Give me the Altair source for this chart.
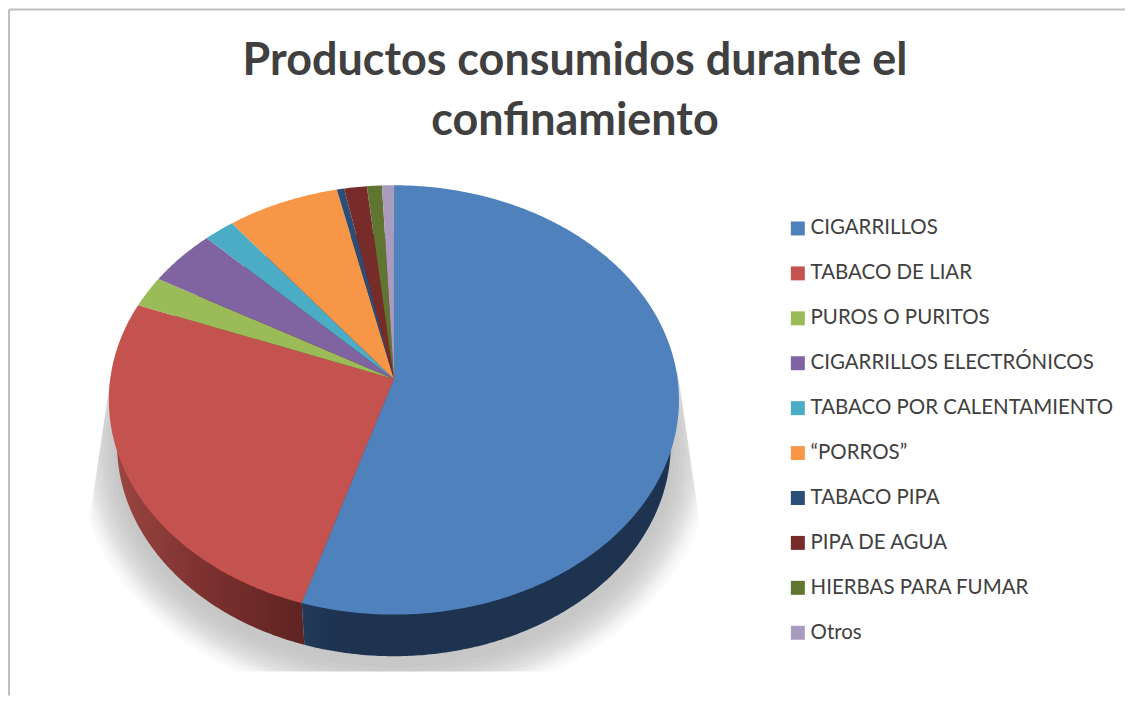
import math
import altair as alt

title_lines = ["Productos consumidos durante el", "confinamiento"]
categories = ["CIGARRILLOS", "TABACO DE LIAR", "PUROS O PURITOS", "CIGARRILLOS ELECTRÓNICOS",
              "TABACO POR CALENTAMIENTO", "“PORROS”", "TABACO PIPA", "PIPA DE AGUA",
              "HIERBAS PARA FUMAR", "Otros"]
values = [54.76, 26.09, 2.35, 4.33, 1.93, 7.0, 0.46, 1.41, 0.93, 0.74]
colors = ["#4F81BD", "#C4524F", "#9BBB59", "#8064A2", "#4BACC6", "#F79646",
          "#2C4D75", "#772C2A", "#5F7530", "#A99BBD"]

TOP = 150
LEFT = 8


def P(x, y):
    return [x - LEFT, y - TOP]


def disc(theta, cx, cy, A, B, k=-0.0977):
    """Tilted disc in perspective: angle clockwise from the top."""
    x, y = math.sin(theta), -math.cos(theta)
    d = 1 + k * y
    return P(cx + A * x / d, cy + B * y / d)


def arc(t0, t1, cx, cy, A, B):
    n = max(2, int((t1 - t0) / 0.01))
    return [disc(t0 + (t1 - t0) * i / n, cx, cy, A, B) for i in range(n + 1)]


def feature(ring, **props):
    return {"type": "Feature", **props, "geometry": {"type": "Polygon", "coordinates": [ring]}}


total = sum(values)
edges = [0.0]
for v in values:
    edges.append(edges[-1] + v / total * 2 * math.pi)

TOPDISC = (393.6, 379, 284.2, 213)
WALL = (393.6, 424, 276, 210)
apex = P(393.6, 379)
rim = disc(edges[1], *TOPDISC)

top_features = [feature([apex] + arc(edges[i], edges[i + 1], *TOPDISC) + [apex], cat=categories[i])
                for i in range(len(categories))]
wall_blue = [feature([apex] + arc(edges[0], edges[1], *WALL) + [rim, apex])]
wall_red = [feature([rim] + arc(edges[1], 2 * math.pi, *WALL) + [apex, rim])]


def clamp(x, y):
    y = max(min(y, 672), 372)
    lo = 110.5 - (y - 372) * 21.5 / 145
    hi = 678 + (y - 372) * 22 / 151
    return P(min(max(x, lo), hi), y)


shadow = []
for d in [4, 9, 13, 16, 19, 22, 25, 27, 29, 31, 33, 36, 39, 42]:
    ring = []
    for i in range(241):
        a = 2 * math.pi * i / 240
        ring.append(clamp(394 + (277 + d) * math.cos(a), 452 + (212 + d) * math.sin(a)))
    shadow.append(feature(ring))

marker = [{"k": 0}]

frame_v = alt.Chart(alt.Data(values=marker)).mark_rule(color="#BFBFBF", strokeWidth=2).encode(
    x=alt.value(0), y=alt.value(9 - TOP), y2=alt.value(696 - TOP))
frame_h = alt.Chart(alt.Data(values=marker)).mark_rule(color="#BFBFBF", strokeWidth=2).encode(
    x=alt.value(0), x2=alt.value(1118), y=alt.value(9 - TOP))

shadow_layer = alt.Chart(alt.Data(values=shadow)).mark_geoshape(
    fill="#000000", fillOpacity=0.0165, strokeWidth=0)
wall_red_layer = alt.Chart(alt.Data(values=wall_red)).mark_geoshape(
    strokeWidth=0,
    fill=alt.Gradient(gradient="linear", x1=0, x2=1, y1=0, y2=0, stops=[
        alt.GradientStop(offset=0, color="#9A4542"),
        alt.GradientStop(offset=0.34, color="#7A302E"),
        alt.GradientStop(offset=0.68, color="#5F2321"),
        alt.GradientStop(offset=1, color="#5F2321")]))
wall_blue_layer = alt.Chart(alt.Data(values=wall_blue)).mark_geoshape(
    strokeWidth=0,
    fill=alt.Gradient(gradient="linear", x1=0, x2=1, y1=0, y2=0, stops=[
        alt.GradientStop(offset=0, color="#233A5B"),
        alt.GradientStop(offset=0.1, color="#1D3350"),
        alt.GradientStop(offset=1, color="#1D3350")]))
top_layer = alt.Chart(alt.Data(values=top_features)).mark_geoshape(strokeWidth=0).encode(
    color=alt.Color(
        "cat:N",
        scale=alt.Scale(domain=categories, range=colors),
        legend=alt.Legend(
            title=None, orient="none", legendX=791 - LEFT - 3, legendY=218 - TOP,
            symbolType="square", symbolSize=196, symbolStrokeWidth=0, labelFontSize=20.5,
            labelFont="Lato", labelColor="#404040", rowPadding=24, labelOffset=2.5, labelLimit=400,
        ),
    )
)

chart = alt.layer(frame_v, frame_h, shadow_layer, wall_red_layer, wall_blue_layer, top_layer).project(
    type="identity", scale=1, translate=[0, 0]
).properties(
    width=1118, height=696 - TOP,
    padding=0,
    background="white",
    title=alt.TitleParams(
        text=title_lines, anchor="start", frame="group", align="center", dx=575 - LEFT, offset=-136,
        font="Lato", fontWeight="bold", fontSize=45, lineHeight=60, color="#404040",
    ),
).configure_view(stroke=None)

chart.save("out.html", embed_options={"renderer": "svg", "actions": False})
